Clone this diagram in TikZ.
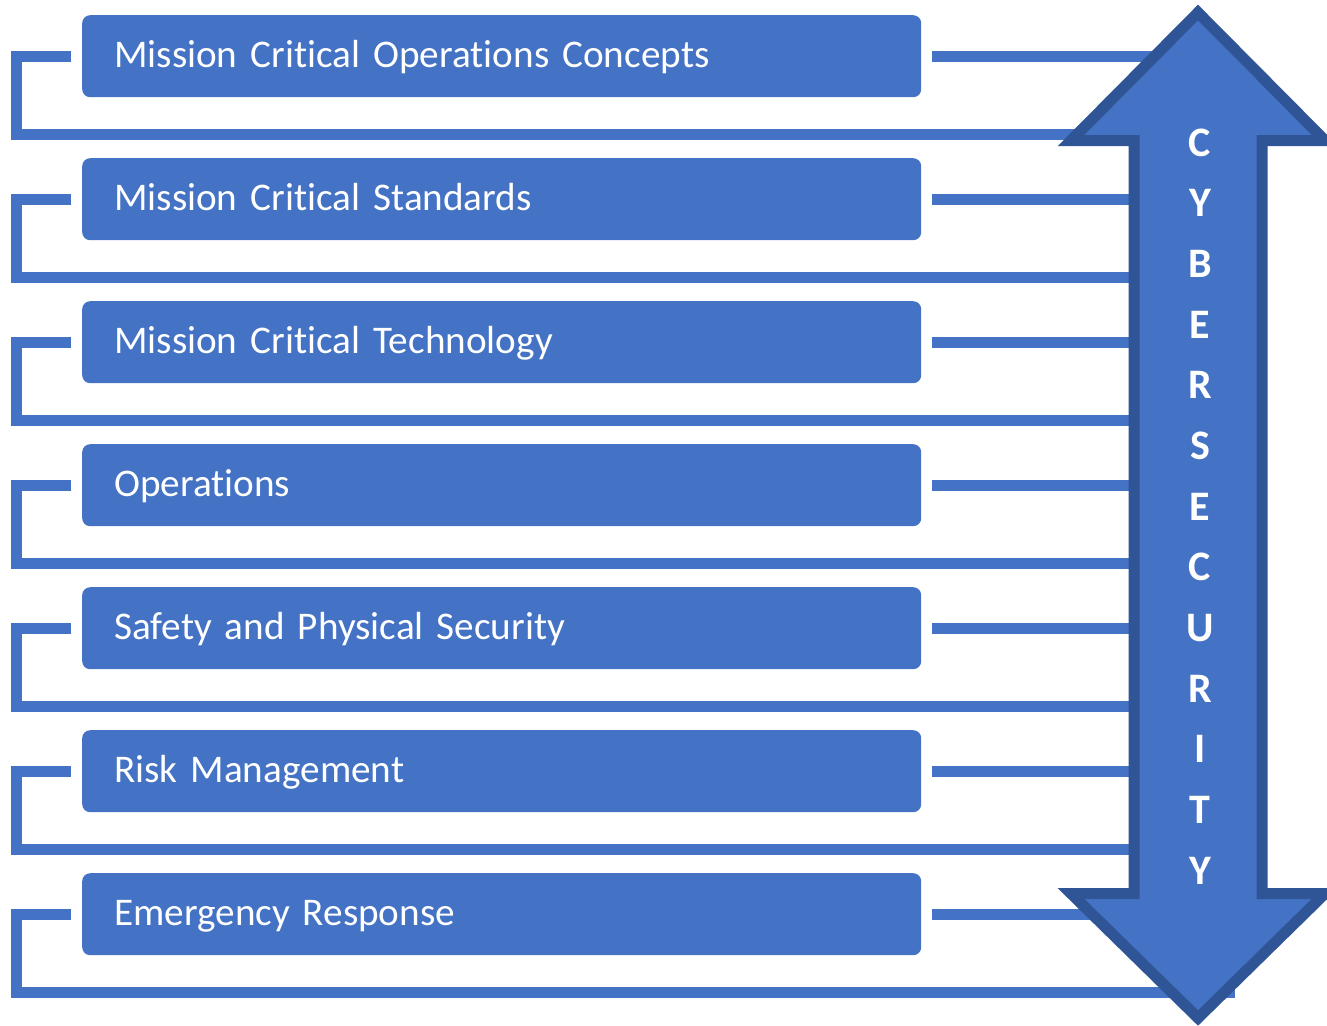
\documentclass[tikz,border=0pt]{standalone}
\usepackage{fontspec}
\setmainfont[Ligatures=NoCommon]{Carlito}
\definecolor{boxblue}{HTML}{4472C4}
\definecolor{edgeblue}{HTML}{2F5597}
\begin{document}
\begin{tikzpicture}[x=1pt,y=-1pt,
  box/.style={fill=boxblue, draw=none, rounded corners=8pt, anchor=north west,
    minimum width=839pt, minimum height=82pt, inner xsep=32pt, text width=775pt,
    align=left, text=white, font=\fontsize{39.2}{47}\selectfont,
    text height=26pt, text depth=2.6pt},
  conn/.style={draw=boxblue, line width=11pt},
  letter/.style={text=white, font=\fontsize{42}{50}\selectfont\bfseries, anchor=base, inner sep=0pt}]
\useasboundingbox (0,0) rectangle (1327,1025);
% boxes
\foreach \i/\t [count=\k from 0] in {1/Mission Critical Operations Concepts,2/Mission Critical Standards,3/Mission Critical Technology,4/Operations,5/Safety and Physical Security,6/Risk Management,7/Emergency Response}{
  \pgfmathsetmacro{\top}{15+143*\k}
  \node[box] (b\i) at (82,\top) {\t};
}
% connectors (behind arrow)
\foreach \i [count=\k from 0] in {1,...,6}{
  \pgfmathsetmacro{\yb}{134.5+143*\k}
  \coordinate (e\i) at (1198,\yb);
  \coordinate (r\i) at (1198,\yb-78);
}
\coordinate (e7) at (1235,992.5);
\coordinate (r7) at (1198,913.5);
\foreach \i in {1,...,7}{
  \draw[conn] ([xshift=-11pt]b\i.west) -- ([xshift=-66pt]b\i.west) |- (e\i);
  \draw[conn] ([xshift=11pt]b\i.east) -- (b\i.east -| r\i);
}
% double arrow
\draw[fill=boxblue, draw=edgeblue, line width=11pt]
  (1198,12.5) -- (1325,140.5) -- (1262,140.5) -- (1262,893.5) -- (1325,893.5)
  -- (1198,1018) -- (1071,893.5) -- (1134,893.5) -- (1134,140.5) -- (1071,140.5) -- cycle;
% letters
\foreach \c [count=\k from 0] in {C,Y,B,E,R,S,E,C,U,R,I,T,Y}{
  \pgfmathsetmacro{\yy}{142.5+60.67*\k+13.5}
  \node[letter] (L\k) at (1200,\yy) {\c};
}
\end{tikzpicture}
\end{document}
